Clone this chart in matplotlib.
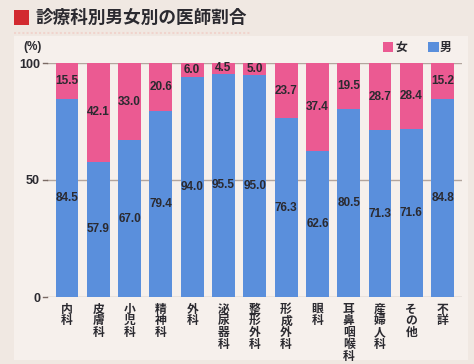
import matplotlib
matplotlib.use("Agg")
import matplotlib.pyplot as plt
from matplotlib.patches import Rectangle

categories = ["内科", "皮膚科", "小児科", "精神科", "外科", "泌尿器科", "整形外科",
              "形成外科", "眼科", "耳鼻咽喉科", "産婦人科", "その他", "不詳"]
male = [84.5, 57.9, 67.0, 79.4, 94.0, 95.5, 95.0, 76.3, 62.6, 80.5, 71.3, 71.6, 84.8]
female = [15.5, 42.1, 33.0, 20.6, 6.0, 4.5, 5.0, 23.7, 37.4, 19.5, 28.7, 28.4, 15.2]
yticks = [0, 50, 100]

W, H = 474, 364
BG = "#f0e8e2"
PANEL = "#f6f0ec"
PINK = "#eb5a92"
BLUE = "#5a8fdc"
TEXT = "#2b2a30"
GRID = "#b3a59e"

plt.rcParams["font.family"] = ["Noto Sans CJK JP", "DejaVu Sans"]

fig = plt.figure(figsize=(W / 100, H / 100), dpi=100, facecolor=BG)

# lighter panel behind the chart
fig.patches.append(Rectangle((14 / W, 1 - 360 / H), (468 - 14) / W, (360 - 36) / H,
                             transform=fig.transFigure, facecolor=PANEL,
                             edgecolor="none", zorder=-5))

# title with red marker
fig.patches.append(Rectangle((14 / W, 1 - 25 / H), 15 / W, 15 / H,
                             transform=fig.transFigure, facecolor="#d22a30",
                             edgecolor="none", zorder=1))
fig.text(36 / W, 1 - 17.5 / H, "診療科別男女別の医師割合", fontsize=12.7,
         fontweight="bold", color=TEXT, va="center", ha="left")
fig.lines.append(plt.Line2D([14 / W, 250 / W], [1 - 33 / H, 1 - 33 / H],
                            transform=fig.transFigure, color="#f0c8c0",
                            lw=1.5, ls=(0, (1, 1)), alpha=0.6, zorder=-4))

ax = fig.add_axes([47 / W, 67 / H, (462 - 47) / W, (297 - 63) / H])
ax.set_facecolor("none")
x = list(range(len(categories)))
width = 0.73

ax.bar(x, male, width=width, color=BLUE, zorder=2)
ax.bar(x, female, width=width, bottom=male, color=PINK, zorder=2)

for xi, m, f in zip(x, male, female):
    ax.text(xi, m / 2, f"{m:.1f}", ha="center", va="center", fontsize=8.5,
            fontweight="bold", color=TEXT, family="Liberation Sans", zorder=3)
    ax.text(xi, m + f / 2, f"{f:.1f}", ha="center", va="center", fontsize=8.5,
            fontweight="bold", color=TEXT, family="Liberation Sans", zorder=3)

for yv in yticks:
    ax.axhline(yv, color=GRID, lw=1, zorder=1)
    ax.plot([-0.77, -0.64], [yv, yv], color="#7a6a64", lw=1, clip_on=False)

ax.set_xlim(-0.64, 12.62)
ax.set_ylim(0, 100)
ax.set_yticks(yticks)
ax.set_yticklabels([str(v) for v in yticks], family="Liberation Sans",
                   fontweight="bold", fontsize=9, color=TEXT)
ax.tick_params(axis="y", length=0, pad=5)
ax.set_xticks(x)
ax.set_xticklabels(["\n".join(c) for c in categories], fontsize=8.5,
                   fontweight="bold", color=TEXT, linespacing=0.88, va="top")
ax.tick_params(axis="x", length=0, pad=4)
for s in ax.spines.values():
    s.set_visible(False)

fig.text(33 / W, 1 - 47 / H, "(%)", ha="center", va="center", fontsize=8.5,
         fontweight="bold", color=TEXT, family="Liberation Sans")

# legend
fig.patches.append(Rectangle((383 / W, 1 - 52 / H), 10 / W, 10 / H,
                             transform=fig.transFigure, facecolor=PINK, edgecolor="none"))
fig.text(395 / W, 1 - 47 / H, "女", fontsize=8.5, fontweight="bold",
         color=TEXT, va="center", ha="left")
fig.patches.append(Rectangle((428 / W, 1 - 52 / H), 11 / W, 10 / H,
                             transform=fig.transFigure, facecolor=BLUE, edgecolor="none"))
fig.text(440 / W, 1 - 47 / H, "男", fontsize=8.5, fontweight="bold",
         color=TEXT, va="center", ha="left")

fig.savefig("out.png", dpi=100, facecolor=BG)
